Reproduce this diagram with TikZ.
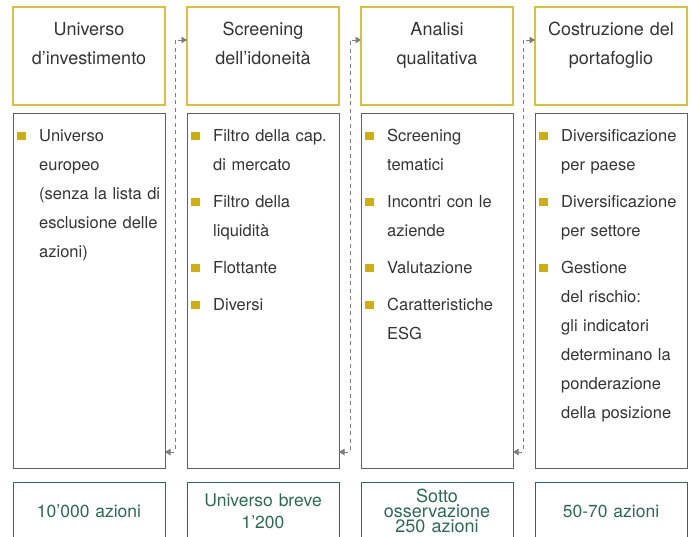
\documentclass[tikz,border=0pt]{standalone}
\usepackage{fontspec}
\setmainfont{TeX Gyre Heros}
\usetikzlibrary{arrows.meta,positioning}
\definecolor{headgold}{HTML}{D9C13E}
\definecolor{bulletgold}{HTML}{D2AE08}
\definecolor{boxgray}{HTML}{606060}
\definecolor{textgray}{HTML}{343434}
\definecolor{countgreen}{HTML}{2C6A53}
\definecolor{flowgray}{HTML}{7E7E7E}
\newcommand{\bitem}{\noindent\setlength{\parskip}{8pt}\hangindent=22pt\hangafter=1\makebox[22pt][l]{\textcolor{bulletgold}{\rule[1.5pt]{8.5pt}{8.5pt}}}}

\begin{document}
\begin{tikzpicture}[node distance=8pt and 22pt,
    head/.style={draw=headgold, line width=1.1pt, minimum width=152pt, minimum height=98pt, inner sep=0pt, outer sep=0pt},
    body/.style={draw=boxgray, line width=0.9pt, minimum width=152pt, minimum height=355pt, inner sep=0pt, outer sep=0pt},
    count/.style={draw=countgreen, line width=1pt, minimum width=152pt, minimum height=58pt, inner sep=0pt, outer sep=0pt, text width=150pt, align=center, text=countgreen, font=\fontsize{17.5}{22}\selectfont},
    title/.style={text width=150pt, align=center, inner sep=0pt, anchor=base, text=textgray, font=\fontsize{18}{29}\selectfont},
    points/.style={text width=146pt, align=left, inner sep=0pt, anchor=base west, text=textgray, font=\fontsize{16.5}{29}\selectfont},
    flow/.style={<->, >={Triangle[length=5.5pt,width=6.5pt]}, draw=flowgray, dash pattern=on 4pt off 3.5pt, line width=0.9pt}]
    \useasboundingbox (0,0) rectangle (691pt,-537pt);
    \clip (0,0) rectangle (691pt,-537pt);

    \node[head, anchor=north west] (t1) at (13pt,-7pt) {};
    \node[head, right=of t1] (t2) {};
    \node[head, right=of t2] (t3) {};
    \node[head, right=of t3] (t4) {};

    \node[body, below=of t1] (g1) {};
    \node[body, below=of t2] (g2) {};
    \node[body, below=of t3] (g3) {};
    \node[body, below=of t4] (g4) {};

    \node[count, below=14pt of g1] (n1) {10’000 azioni};
    \node[count, below=14pt of g2] (n2) {Universo breve\\1’200};
    \node[count, below=14pt of g3, font=\fontsize{18}{15}\selectfont] (n3) {Sotto\\osservazione\\250 azioni};
    \node[count, below=14pt of g4] (n4) {50-70 azioni};

    \node[title] (h1) at ([yshift=-29pt]t1.north) {Universo\\d’investimento};
    \node[title] (h2) at ([yshift=-29pt]t2.north) {Screening\\dell’idoneità};
    \node[title] (h3) at ([yshift=-29pt]t3.north) {Analisi\\qualitativa};
    \node[title] (h4) at ([yshift=-29pt]t4.north) {Costruzione del\\portafoglio};

    \node[points] (p1) at ([xshift=4pt,yshift=-29pt]g1.north west)
        {\bitem Universo\newline europeo\newline (senza la lista di\newline esclusione delle\newline azioni)\par};
    \node[points] (p2) at ([xshift=4pt,yshift=-29pt]g2.north west)
        {\bitem Filtro della cap.\newline di mercato\par
         \bitem Filtro della\newline liquidità\par
         \bitem Flottante\par
         \bitem Diversi\par};
    \node[points] (p3) at ([xshift=4pt,yshift=-29pt]g3.north west)
        {\bitem Screening\newline tematici\par
         \bitem Incontri con le\newline aziende\par
         \bitem Valutazione\par
         \bitem Caratteristiche\newline ESG\par};
    \node[points] (p4) at ([xshift=4pt,yshift=-29pt]g4.north west)
        {\bitem Diversificazione\newline per paese\par
         \bitem Diversificazione\newline per settore\par
         \bitem Gestione\newline del rischio:\newline gli indicatori\newline determinano la\newline ponderazione\newline della posizione\par};

    \draw[flow] ([yshift=16pt]g1.south east) -- ++(10pt,0) |- ([yshift=16pt]t2.west);
    \draw[flow] ([yshift=16pt]g2.south east) -- ++(11pt,0) |- ([yshift=16pt]t3.west);
    \draw[flow] ([yshift=16pt]g3.south east) -- ++(10pt,0) |- ([yshift=16pt]t4.west);
\end{tikzpicture}
\end{document}
